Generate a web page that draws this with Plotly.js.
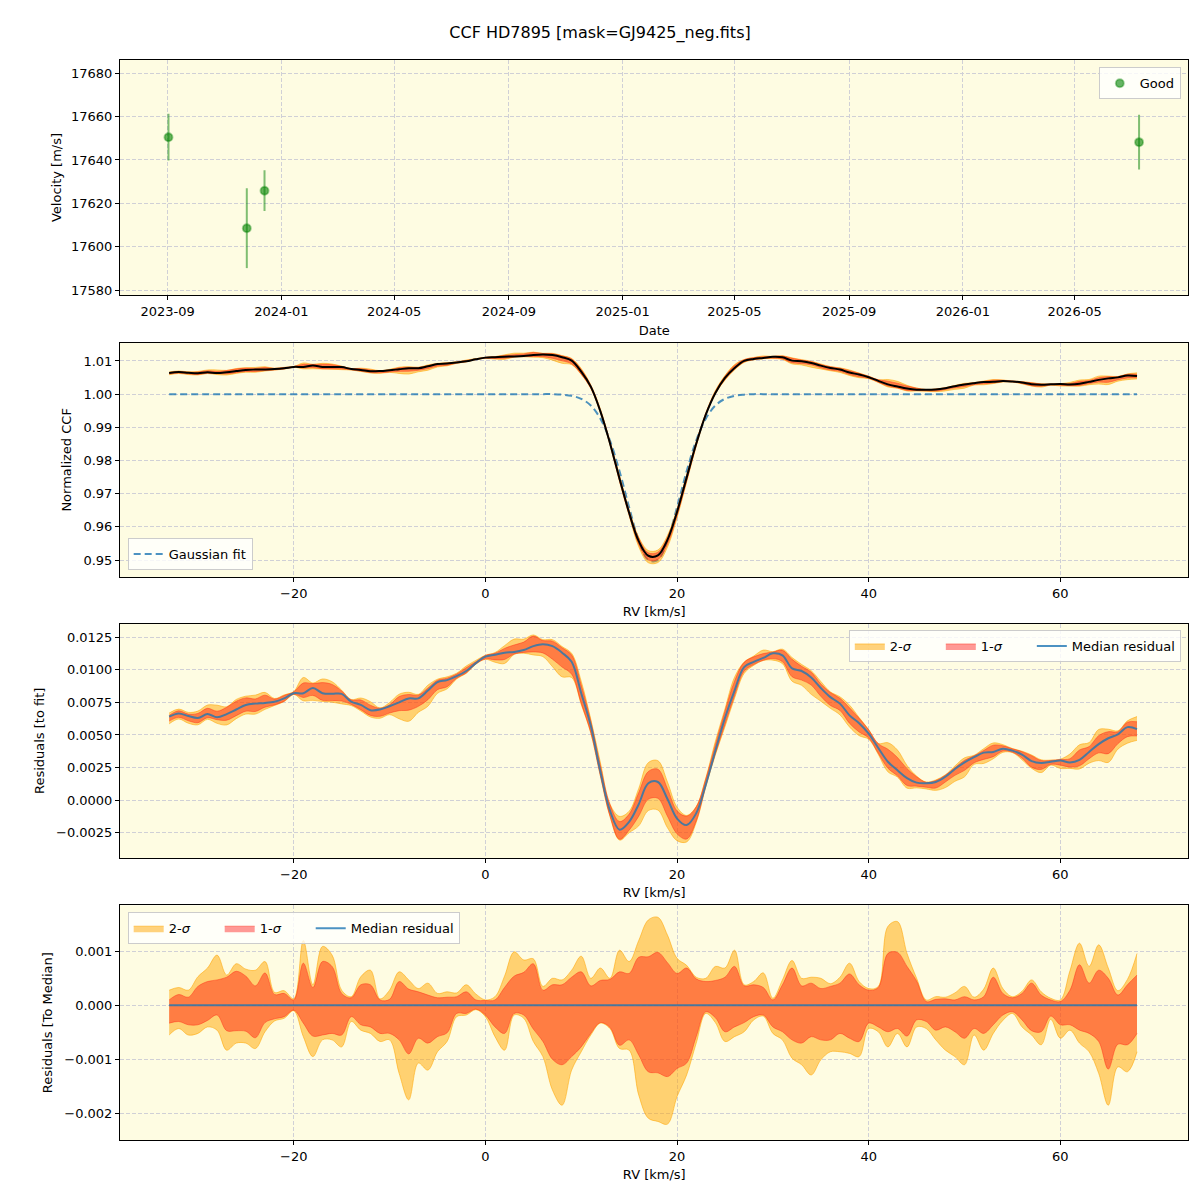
<!DOCTYPE html>
<html>
<head>
<meta charset="utf-8">
<script src="https://cdn.plot.ly/plotly-3.0.1.min.js"></script>
<style>html,body{margin:0;padding:0;background:#fff;}#chart{width:1200px;height:1200px;}</style>
</head>
<body>
<div id="chart"></div>
<script>
// ---------- Panel 1: radial velocities ----------
const obsDates = ['2023-09-02', '2023-11-25', '2023-12-14', '2026-07-09'];
const obsVel = [17650.5, 17608.5, 17625.8, 17648.2];
const obsErr = [10.8, 18.4, 9.4, 12.6];

// ---------- RV grid (km/s) ----------
const rv = [-33,-32,-31,-30,-29,-28,-27,-26,-25,-24,-23,-22,-21,-20,-19,-18,-17,-16,-15,-14,-13,-12,-11,-10,
  -9,-8,-7,-6,-5,-4,-3,-2,-1,0,1,2,3,4,5,6,7,8,9,10,11,12,13,14,15,16,17,18,19,20,21,22,23,24,25,26,27,28,29,
  30,31,32,33,34,35,36,37,38,39,40,41,42,43,44,45,46,47,48,49,50,51,52,53,54,55,56,57,58,59,60,61,62,63,64,65,66,67,68];

// Gaussian fit (normalized CCF) read on the grid
const gaussFit = [1,1,1,1,1,1,1,1,1,1,1,1,1,1,1,1,1,1,1,1,1,1,1,1,
  1,1,1,1,1,1,1,1,1,1,1,1,1,1,1,1,1,0.99984,0.99949,0.99859,0.99657,0.99262,0.98603,0.97674,0.9659,0.95599,0.95,0.95,0.95599,0.9659,0.97674,0.98603,0.99262,0.99657,0.99859,0.99949,0.99984,1,1,
  1,1,1,1,1,1,1,1,1,1,1,1,1,1,1,1,1,1,1,1,1,1,1,1,1,1,1,1,1,1,1,1,1,1,1,1,1,1,1,1];

// Median residual to fit (units of 1e-4)
const medianRes = [64,66.5,64.5,63,66,63.5,66,69.5,73,74,74.5,75.5,78,82,82,86,82,81.5,81.5,75.5,73,69,69.5,72,
  75,78,78,84,90.5,92,95,99,105,110,111.5,113,113.5,115,118,119.5,118,113,106,82,57,22,-8,-22.5,-16.5,-3,13,14,1,-14,-19,-10,12,38,63,84,102,106,109,
  112.5,111,101,99,94,86,79,74,65,59,51,40,29.5,23,17,13.5,13,14,18,24,29,33,36.5,37,39.5,38,35,30,28.5,29.5,30.5,29,31,37,43,47.5,50.5,56,54.5];

// Band offsets relative to median (units of 1e-4)
const up2 = [2.8,3.3,2.8,5.3,6.9,9.3,5.6,7.7,6.7,6.5,8.1,2.4,2.7,1.2,12.0,3.8,10.9,9.3,2.8,1.6,5.3,6.5,1.2,2.8,
  6.2,4.7,3.1,4.1,2.2,2.5,2.3,3.8,2.1,1.0,1.6,5.4,9.9,8.4,8.6,3.5,5.0,4.7,6.5,9.1,5.0,6.9,5.0,10.2,8.1,12.0,15.8,16.3,13.0,8.7,7.4,5.2,5.0,7.2,6.9,10.2,3.8,4.4,6.0,
  1.3,4.7,8.3,5.0,5.2,5.0,4.0,5.2,7.8,4.4,3.1,3.5,14.6,15.5,9.6,5.0,1.0,1.6,1.5,2.3,3.5,1.5,3.0,6.9,3.1,1.6,2.6,4.7,2.5,1.3,1.0,6.4,11.5,7.2,11.2,6.9,2.7,4.8,9.6];
const up1 = [1.0,2.0,1.5,3.5,4.4,4.7,5.2,6.3,5.4,3.6,6.0,2.0,2.2,1.0,7.8,3.3,8.1,7.2,2.2,1.4,3.8,3.8,1.0,1.1,
  4.4,3.0,2.5,1.9,1.4,1.5,1.6,2.5,1.0,0.9,1.0,3.3,5.4,6.1,7.7,2.8,3.8,3.8,5.2,6.2,3.6,4.6,4.8,6.2,5.9,8.9,9.0,9.8,7.9,5.9,6.9,4.9,4.4,4.6,5.2,7.2,3.6,3.8,3.3,
  1.0,3.8,6.9,3.6,4.1,3.1,3.5,4.1,5.8,3.8,2.8,3.3,9.6,9.8,7.2,4.5,0.7,1.1,1.2,1.0,1.6,1.0,1.6,5.2,2.2,1.4,2.2,4.1,1.9,1.0,0.7,2.8,7.5,4.1,6.5,5.0,1.9,3.8,5.6];
const lo1 = [-3.3,-3.0,-3.6,-3.6,-2.8,-1.8,-4.7,-4.7,-4.8,-6.0,-3.2,-2.5,-2.1,-0.9,-3.3,-5.7,-5.5,-5.2,-5.5,-2.1,-3.6,-4.0,-5.2,-5.2,
  -6.4,-9.0,-6.1,-7.0,-5.8,-5.1,-1.5,-1.5,-0.7,-1.8,-4.0,-5.2,-1.5,-1.8,-4.4,-6.7,-10.0,-11.0,-9.5,-7.7,-5.2,-3.2,-4.1,-7.4,-6.4,-9.2,-12.3,-12.5,-13.2,-11.7,-10.7,-5.8,-1.2,-2.3,-4.9,-4.0,-3.2,-2.1,-1.8,
  -4.0,-4.9,-6.4,-7.0,-5.8,-6.4,-6.4,-5.2,-6.1,-6.7,-3.3,-4.0,-4.9,-4.3,-5.7,-2.7,-3.0,-4.6,-4.0,-4.9,-6.1,-4.3,-5.2,-3.6,-1.8,-1.2,-2.7,-4.7,-4.9,-2.0,-3.6,-3.6,-4.6,-5.2,-6.7,-11.8,-7.2,-7.3,-5.2];
const lo2 = [-5.5,-4.3,-5.5,-5.2,-4.0,-4.6,-8.3,-7.0,-7.0,-8.0,-4.9,-2.9,-2.4,-1.0,-5.8,-9.5,-6.4,-6.4,-7.7,-3.0,-4.6,-5.2,-6.7,-6.4,
  -12.6,-17.5,-10.7,-12.0,-8.6,-6.7,-2.1,-1.8,-0.8,-2.1,-5.8,-8.3,-1.8,-2.4,-6.7,-9.5,-15.7,-18.5,-12.0,-8.6,-5.5,-3.3,-4.3,-8.0,-8.3,-16.6,-20.9,-21.5,-22.0,-16.9,-12.9,-7.0,-1.5,-3.2,-6.7,-5.8,-4.9,-2.7,-2.0,
  -5.2,-6.4,-9.8,-11.0,-12.9,-10.1,-8.6,-8.6,-8.9,-9.5,-4.3,-4.9,-7.7,-5.2,-7.7,-4.0,-4.3,-6.4,-8.3,-9.5,-11.0,-5.5,-8.3,-5.2,-2.8,-1.5,-4.0,-5.5,-7.3,-2.6,-6.1,-4.6,-7.0,-8.6,-12.6,-18.5,-11.4,-12.3,-8.6];

const RES_UNIT = 1e-4;

// ---------- derived series ----------
const res = medianRes.map(v => v * RES_UNIT);
const ccf = gaussFit.map((f, i) => f + res[i]);
const addOff = (base, off) => base.map((b, i) => b + off[i] * RES_UNIT);
const zeroMed = medianRes.map(() => 0);

const C2 = 'rgba(255,165,0,0.5)';
const C2L = 'rgba(255,165,0,0.55)';
const C1 = 'rgba(255,0,0,0.4)';
const C1L = 'rgba(255,40,20,0.45)';
const BLUE = 'rgba(31,119,180,0.8)';
const PAD = '\u00a0\u00a0\u00a0\u00a0\u00a0\u00a0';

function bandTraces(base, xa, ya, legendName, showLeg) {
  return [
    {x: rv, y: addOff(base, lo2), xaxis: xa, yaxis: ya, mode: 'lines', line: {color: C2L, width: 1, shape: 'spline'}, showlegend: false, hoverinfo: 'skip', legend: legendName},
    {x: rv, y: addOff(base, up2), xaxis: xa, yaxis: ya, mode: 'lines', fill: 'tonexty', fillcolor: C2, line: {color: C2L, width: 1, shape: 'spline'}, name: '2-<i>σ</i>' + PAD, showlegend: showLeg, legend: legendName, hoverinfo: 'skip'},
    {x: rv, y: addOff(base, lo1), xaxis: xa, yaxis: ya, mode: 'lines', line: {color: C1L, width: 1, shape: 'spline'}, showlegend: false, hoverinfo: 'skip', legend: legendName},
    {x: rv, y: addOff(base, up1), xaxis: xa, yaxis: ya, mode: 'lines', fill: 'tonexty', fillcolor: C1, line: {color: C1L, width: 1, shape: 'spline'}, name: '1-<i>σ</i>' + PAD, showlegend: showLeg, legend: legendName, hoverinfo: 'skip'}
  ];
}

const traces = [];
// Panel 1
traces.push({
  x: obsDates, y: obsVel, xaxis: 'x', yaxis: 'y', mode: 'markers', name: 'Good',
  marker: {size: 8, color: 'rgba(0,130,0,0.6)', line: {color: 'rgba(0,130,0,0.35)', width: 2}},
  error_y: {type: 'data', array: obsErr, visible: true, color: 'rgba(0,128,0,0.5)', thickness: 2, width: 0},
  legend: 'legend'
});
// Panel 2
traces.push({x: rv, y: gaussFit, xaxis: 'x2', yaxis: 'y2', mode: 'lines', name: 'Gaussian fit',
  line: {color: BLUE, width: 2, dash: '7px,4px', shape: 'spline'}, legend: 'legend2'});
bandTraces(ccf, 'x2', 'y2', 'legend2', false).forEach(t => traces.push(t));
traces.push({x: rv, y: ccf, xaxis: 'x2', yaxis: 'y2', mode: 'lines', line: {color: 'black', width: 2, shape: 'spline'}, showlegend: false, legend: 'legend2'});
// Panel 3
bandTraces(res, 'x3', 'y3', 'legend3', true).forEach(t => traces.push(t));
traces.push({x: rv, y: res, xaxis: 'x3', yaxis: 'y3', mode: 'lines', name: 'Median residual', line: {color: BLUE, width: 2, shape: 'spline'}, legend: 'legend3'});
// Panel 4
bandTraces(zeroMed, 'x4', 'y4', 'legend4', true).forEach(t => traces.push(t));
traces.push({x: rv, y: zeroMed, xaxis: 'x4', yaxis: 'y4', mode: 'lines', name: 'Median residual', line: {color: BLUE, width: 2}, legend: 'legend4'});

const FONT = 'DejaVu Sans, sans-serif';
const baseAxis = {
  showline: true, mirror: true, linecolor: 'black', linewidth: 1,
  ticks: 'outside', ticklen: 4, tickcolor: 'black', tickwidth: 1,
  showgrid: true, gridcolor: '#d0d0d6', griddash: '4px,2px', gridwidth: 1,
  zeroline: false, tickfont: {size: 13, color: 'black', family: FONT}
};
const ax = (o) => Object.assign({}, baseAxis, o);
const xd = [0.1, 0.9904];
const rvRange = [-38.13, 73.37];
const legBase = {bgcolor: 'rgba(255,255,255,0.8)', bordercolor: '#cccccc', borderwidth: 1, traceorder: 'normal', font: {size: 13, family: FONT, color: 'black'}};

const layout = {
  width: 1200, height: 1200,
  margin: {l: 0, r: 0, t: 0, b: 0, autoexpand: false},
  paper_bgcolor: 'white', plot_bgcolor: 'rgb(254,252,226)',
  font: {family: FONT, size: 13, color: 'black'},
  title: {text: 'CCF HD7895 [mask=GJ9425_neg.fits]', x: 0.5, xanchor: 'center', y: 0.9733, yanchor: 'middle', font: {size: 16, family: FONT}},
  xaxis: ax({domain: xd, anchor: 'y', type: 'date', range: ['2023-07-12', '2026-08-31'], dtick: 'M4', tick0: '2023-09-01', tickformat: '%Y-%m',
    title: {text: 'Date', standoff: 8, font: {size: 13}}}),
  yaxis: ax({domain: [0.75417, 0.95], anchor: 'x', range: [17577.7, 17686.1], dtick: 20, tick0: 17580, tickformat: 'd',
    title: {text: 'Velocity [m/s]', standoff: 6, font: {size: 13}}}),
  xaxis2: ax({domain: xd, anchor: 'y2', range: rvRange, dtick: 20, tick0: 0, title: {text: 'RV [km/s]', standoff: 7, font: {size: 13}}}),
  yaxis2: ax({domain: [0.51917, 0.71442], anchor: 'x2', range: [0.9449, 1.0155], dtick: 0.01, tick0: 0.95, tickformat: '.2f',
    title: {text: 'Normalized CCF', standoff: 8, font: {size: 13}}}),
  xaxis3: ax({domain: xd, anchor: 'y3', range: rvRange, dtick: 20, tick0: 0, title: {text: 'RV [km/s]', standoff: 7, font: {size: 13}}}),
  yaxis3: ax({domain: [0.285, 0.48025], anchor: 'x3', range: [-0.00442, 0.01352], dtick: 0.0025, tick0: 0, tickformat: '.4f',
    title: {text: 'Residuals [to fit]', standoff: 8, font: {size: 13}}}),
  xaxis4: ax({domain: xd, anchor: 'y4', range: rvRange, dtick: 20, tick0: 0, title: {text: 'RV [km/s]', standoff: 7, font: {size: 13}}}),
  yaxis4: ax({domain: [0.05, 0.24558], anchor: 'x4', range: [-0.002494, 0.001852], dtick: 0.001, tick0: 0, tickformat: '.3f',
    title: {text: 'Residuals [To Median]', standoff: 8, font: {size: 13}}}),
  legend: Object.assign({}, legBase, {x: 0.984, xanchor: 'right', y: 0.9439, yanchor: 'top'}),
  legend2: Object.assign({}, legBase, {x: 0.1064, xanchor: 'left', y: 0.525, yanchor: 'bottom'}),
  legend3: Object.assign({}, legBase, {x: 0.984, xanchor: 'right', y: 0.475, yanchor: 'top', orientation: 'h'}),
  legend4: Object.assign({}, legBase, {x: 0.1064, xanchor: 'left', y: 0.2398, yanchor: 'top', orientation: 'h'}),
  showlegend: true
};

Plotly.newPlot('chart', traces, layout, {displayModeBar: false, staticPlot: true});
</script>
</body>
</html>
